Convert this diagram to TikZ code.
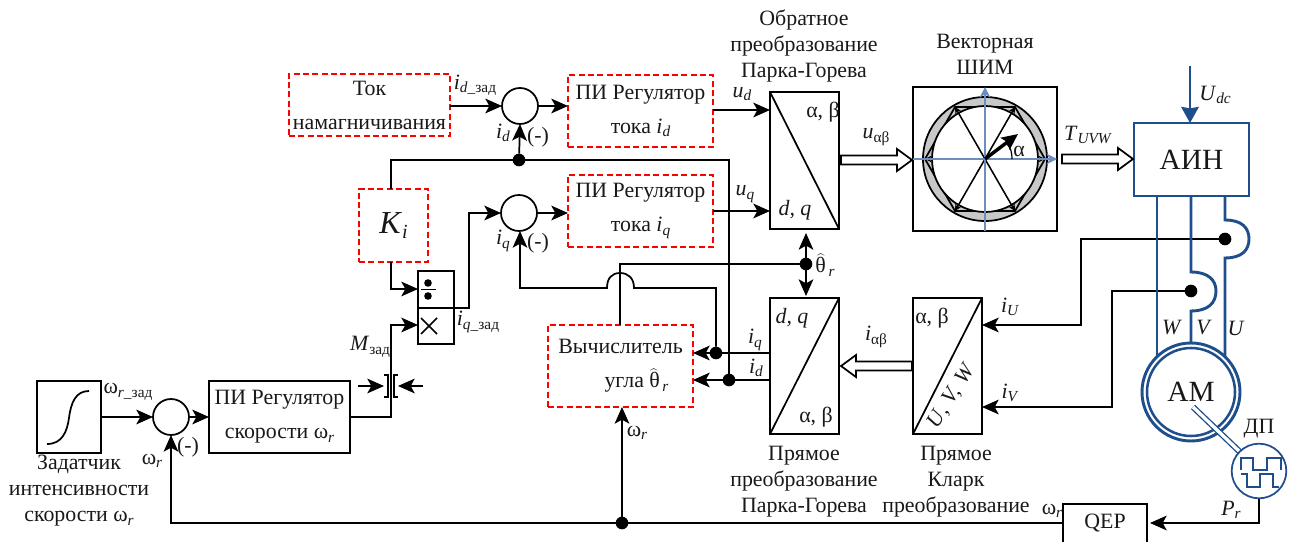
\documentclass[tikz,border=0pt]{standalone}
\usepackage{fontspec}
\usepackage{graphicx}
\setmainfont{Liberation Serif}
\usetikzlibrary{arrows.meta,calc}
\definecolor{navy}{HTML}{1F4E8C}
\definecolor{axisblue}{HTML}{6C8EBF}
\definecolor{ringgrey}{HTML}{C8C8C8}
\newcommand\lsub[1]{\raisebox{-.35ex}{\fontsize{11.5}{12}\selectfont #1}}
\newcommand\isub[2]{\textit{#1}\lsub{\textit{#2}}}
\newcommand\omr{ω\lsub{\textit{r}}}
\newcommand\thetahat{\ensuremath{\widehat{\hbox{θ}}}}
% box from corners: name, x1, y1, x2, y2, style, text
\newcommand\bx[7]{\node[#6,minimum width={(#4-#2)*.75pt},minimum height={(#5-#3)*.75pt}] (#1) at ({(#2+#4)/2},{(#3+#5)/2}) {#7};}
\newcommand\hollowR[3]{\draw[hollow] (#1,#3-4.5) -- (#2-15,#3-4.5) -- (#2-15,#3-11) -- (#2,#3) -- (#2-15,#3+11) -- (#2-15,#3+4.5) -- (#1,#3+4.5) -- cycle;}
\newcommand\hollowL[3]{\draw[hollow] (#1,#3-4.5) -- (#2+15,#3-4.5) -- (#2+15,#3-11) -- (#2,#3) -- (#2+15,#3+11) -- (#2+15,#3+4.5) -- (#1,#3+4.5) -- cycle;}
\tikzset{
 x=.75pt,y=-.75pt,
 every node/.style={font=\fontsize{16.4}{25.5}\selectfont,inner sep=0pt,outer sep=0pt,text=black!90},
 wire/.style={line width=1.3pt,black},
 arr/.style={wire,-{Stealth[length=12.5pt,width=11pt,inset=3pt]}},
 darr/.style={wire,{Stealth[length=12.5pt,width=11pt,inset=3pt]}-{Stealth[length=12.5pt,width=11pt,inset=3pt]}},
 plainbox/.style={draw,line width=1.3pt,align=center},
 redbox/.style={draw=red,dashed,dash pattern=on 4.5pt off 2.5pt,line width=1.3pt,align=center},
 sumcirc/.style={draw,circle,line width=1.3pt,minimum size=27pt},
 dot/.style={fill=black,circle,minimum size=9.5pt},
 small/.style={font=\fontsize{16.4}{19.5}\selectfont,align=center},
 blue wire/.style={line width=2.2pt,navy},
 hollow/.style={line width=1.3pt,fill=white,draw=black,line join=miter},
}
\begin{document}
\begin{tikzpicture}
\useasboundingbox (0,0) rectangle (1295,542);
\clip (0,0) rectangle (1295,542);

% blocks
\bx{tok}{289}{74}{450}{136}{redbox}{Ток\\намагничивания}
\bx{pid}{568}{75}{713}{147}{redbox}{ПИ Регулятор\\тока \isub{i}{d}}
\bx{piq}{568}{175}{713}{247}{redbox}{ПИ Регулятор\\тока \isub{i}{q}}
\bx{ki}{359}{189}{428}{262}{redbox}{\fontsize{24}{25}\selectfont\textit{K}\raisebox{-.3ex}{\fontsize{15}{16}\selectfont\textit{i}}}
\bx{divb}{418}{271}{454}{308}{plainbox}{}
\bx{mulb}{418}{308}{454}{344}{plainbox}{}
\bx{pis}{209}{381}{350}{453}{plainbox}{ПИ Регулятор\\скорости \omr}
\bx{ramp}{37}{381}{101}{453}{plainbox}{}
\bx{calc}{548}{325}{693}{407}{redbox}{Вычислитель\\\hspace*{24pt}угла \thetahat\lsub{\,\textit{r}}}
\bx{pinv}{770}{92}{839}{229}{plainbox}{}
\bx{pdir}{770}{298}{839}{434}{plainbox}{}
\bx{clk}{913}{298}{982}{434}{plainbox}{}
\bx{svm}{913}{87}{1057}{231}{plainbox}{}
\bx{ain}{1134}{123}{1249}{196}{draw=navy,line width=2.2pt}{\fontsize{22}{25}\selectfont АИН}
\bx{qep}{1063}{504}{1147}{560}{plainbox}{}
\node (qeptxt) at (1105,523) {QEP};

% summers
\node[sumcirc] (sumd) at (520,106) {};
\node[sumcirc] (sumq) at (519,213) {};
\node[sumcirc] (sums) at (171,417) {};

% junctions
\node[dot] (jd) at (519,160) {};
\node[dot] (jth) at (806,264) {};
\node[dot] (jiq) at (716,353) {};
\node[dot] (jid) at (729,380) {};
\node[dot] (jw) at (622,523) {};
\node[dot] (ju) at (1225,239) {};
\node[dot] (jv) at (1191,291) {};

% free ends
\coordinate (limL) at (384,386);
\coordinate (limR) at (398,386);
\coordinate (limLs) at (358,386);
\coordinate (limRs) at (423,386);

% wires
\draw[arr] (tok.east |- sumd) -- (sumd.west);
\draw[arr] (sumd.east) -- (sumd.east -| pid.west);
\draw[arr] (jd) -- (sumd.south);
\draw[wire] (ki.north -| 391,0) -- (391,160) -- (jd);
\draw[wire] (jd) -- (729,160) -- (jid);
\draw[arr] (sumq.east) -- (sumq.east -| piq.west);
\draw[arr] (divb.south east) -- (469,308) -- (469,213) -- (sumq.west);
\draw[arr] (391,262) -- (391,289) -- (418,289);
\draw[arr] (pis.east) -- (391,417) -- (391,325) -- (418,325);
\draw[arr] (ramp.east) -- (sums.west);
\draw[arr] (sums.east) -- (pis.west);
\draw[arr] (limLs) -- (limL);
\draw[arr] (limRs) -- (limR);
\draw[line width=1.15pt] (384,375) -- (388,375) -- (388,397) -- (384,397);
\draw[line width=1.15pt] (398,375) -- (394,375) -- (394,397) -- (398,397);
\draw[arr] (jw) -- (calc.south -| jw);
\draw[arr] (qep.west |- qeptxt) -- (171,523) -- (sums.south);
\draw[wire] (calc.north -| 620,0) -- (620,264) -- (jth);
\draw[darr] (806,233) -- (jth.center) -- (806,296);
\draw[arr] (jiq) -- (716,288) -- (634,288) .. controls (634,278) and (628,273) .. (620,273) .. controls (612,273) and (607,278) .. (607,288) -- (520,288) -- (520,231);
\draw[wire] (770,353) -- (jiq);
\draw[arr] (jiq) -- (693,353);
\draw[wire] (770,380) -- (jid);
\draw[arr] (jid) -- (693,380);
\draw[arr] (713,110) -- (770,110);
\draw[arr] (713,211) -- (770,211);
\draw[arr] (ju) -- (1081,239) -- (1081,325) -- (982,325);
\draw[arr] (jv) -- (1112,291) -- (1112,407) -- (982,407);
\draw[arr] (1259,499) -- (1259,523) -- (1150,523);

% diagonals
\draw[wire] (pinv.north west) -- (pinv.south east);
\draw[wire] (pdir.south west) -- (pdir.north east);
\draw[wire] (clk.south west) -- (clk.north east);

% hollow arrows
\hollowR{841}{912}{160}
\hollowR{1062}{1133}{159}
\hollowL{912}{841}{366}

% divide and multiply signs
\fill (428,283) circle (3.8);
\fill (428,296) circle (3.8);
\draw[line width=1.3pt] (421,289.5) -- (436,289.5);
\draw[line width=1.3pt] (421,318) -- (437,334) (421,334) -- (437,318);

% ramp curve
\draw[line width=1.3pt] (47,444) .. controls (62,444) and (67,432) .. (69,418) .. controls (71,402) and (76,391) .. (89,391);

% space vector diagram
\fill[ringgrey] (985,159) circle (62);
\draw[line width=1.3pt,fill=ringgrey] (1045,159) -- (1015,107) -- (955,107) -- (925,159) -- (955,211) -- (1015,211) -- cycle;
\fill[white] (985,159) circle (53);
\draw[line width=1.3pt] (985,159) circle (62);
\draw[line width=1.3pt] (985,159) circle (53);
\draw[line width=1.15pt,-{Stealth[length=5pt,width=5pt]}] (985,159) -- (1045,159);
\draw[line width=1.15pt,-{Stealth[length=5pt,width=5pt]}] (985,159) -- (1015,107);
\draw[line width=1.15pt,-{Stealth[length=5pt,width=5pt]}] (985,159) -- (955,107);
\draw[line width=1.15pt,-{Stealth[length=5pt,width=5pt]}] (985,159) -- (925,159);
\draw[line width=1.15pt,-{Stealth[length=5pt,width=5pt]}] (985,159) -- (955,211);
\draw[line width=1.15pt,-{Stealth[length=5pt,width=5pt]}] (985,159) -- (1015,211);
\draw[line width=1.1pt,axisblue,-{Stealth[length=8pt,width=8pt]}] (985,231) -- (985,87);
\draw[line width=1.1pt,axisblue,-{Stealth[length=8pt,width=8pt]}] (913,159) -- (1057,159);
\draw[line width=2.6pt,-{Stealth[length=12pt,width=11pt,inset=2pt]}] (985,159) -- (1018,134);
\draw[line width=.9pt] (1007,144) .. controls (1011,148) and (1012,153) .. (1012,159);
\node at (1019,151) {α};

% inverter and motor
\draw[blue wire,-{Stealth[length=12pt,width=13pt,inset=1pt]}] (1190,66) -- (ain.north -| 1190,0);
\draw[blue wire] (1157,196) -- (1157,358);
\draw[blue wire] (1191,196) -- (1191,272) .. controls (1208,272) and (1216,280) .. (1216,291) .. controls (1216,303) and (1208,311) .. (1191,311) -- (1191,343);
\draw[blue wire] (1225,196) -- (1225,220) .. controls (1242,220) and (1249,228) .. (1249,239) .. controls (1249,250) and (1242,258) .. (1225,258) -- (1225,356);
\node[draw=navy,circle,line width=2.2pt,minimum size=73.5pt,fill=white] (amo) at (1191,392) {};
\node[draw=navy,circle,line width=1.9pt,minimum size=66pt] (am) at (1191,392) {\fontsize{22}{25}\selectfont АМ};
\draw[navy,line width=1pt,double=white,double distance=2.5pt] (1193,407) -- (1240,452);
\node[draw=navy,circle,line width=1.3pt,minimum size=41pt,fill=white] (enc) at (1259,471) {};
\draw[navy,line width=1.4pt] (1241,470) -- (1241,458) -- (1253,458) -- (1253,470) -- (1267,470) -- (1267,458) -- (1281,458) -- (1281,470);
\draw[navy,line width=1.4pt] (1241,474) -- (1247,474) -- (1247,487) -- (1260,487) -- (1260,474) -- (1273,474) -- (1273,487) -- (1279,487);

% labels
\node[small] (l1) at (804,46) {Обратное\\преобразование\\Парка-Горева};
\node[small] (l2) at (985,54) {Векторная\\ШИМ};
\node[small] (l3) at (804,482) {Прямое\\преобразование\\Парка-Горева};
\node[small] (l4) at (956,482) {Прямое\\Кларк\\преобразование};
\node[small] (l5) at (79,491) {Задатчик\\интенсивности\\скорости \omr};
\node at (475,85) {\textit{i}\lsub{\textit{d\_}зад}};
\node at (503,133) {\isub{i}{d}};
\node at (538,137) {(-)};
\node at (503,241) {\isub{i}{q}};
\node at (538,243) {(-)};
\node at (478,322) {\textit{i}\lsub{\textit{q\_}зад}};
\node at (370,347) {\textit{M}\lsub{зад}};
\node at (128,392) {ω\lsub{\textit{r\_}зад}};
\node at (152,461) {\omr};
\node at (188,447) {(-)};
\node at (742,94) {\isub{u}{d}};
\node at (745,194) {\isub{u}{q}};
\node at (876,137) {\textit{u}\lsub{αβ}};
\node at (1088,135) {\isub{T}{UVW}};
\node at (1215,95) {\isub{U}{dc}};
\node at (825,265) {\thetahat\lsub{\,\textit{r}}};
\node at (755,340) {\isub{i}{q}};
\node at (756,368) {\isub{i}{d}};
\node at (876,337) {\textit{i}\lsub{αβ}};
\node at (1010,307) {\isub{i}{U}};
\node at (1010,393) {\isub{i}{V}};
\node at (1172,328) {\textit{W}};
\node at (1204,328) {\textit{V}};
\node at (1236,328) {\textit{U}};
\node at (1259,429) {ДП};
\node at (1231,510) {\isub{P}{r}};
\node at (637,433) {\omr};
\node at (1052,511) {\omr};
\node at (823,112) {α, β};
\node at (795,210) {\textit{d, q}};
\node at (792,318) {\textit{d, q}};
\node at (816,417) {α, β};
\node at (932,318) {α, β};
\node[rotate=58] at (952,396) {\textit{U,\,\,V,\,\,W}};
\end{tikzpicture}
\end{document}
